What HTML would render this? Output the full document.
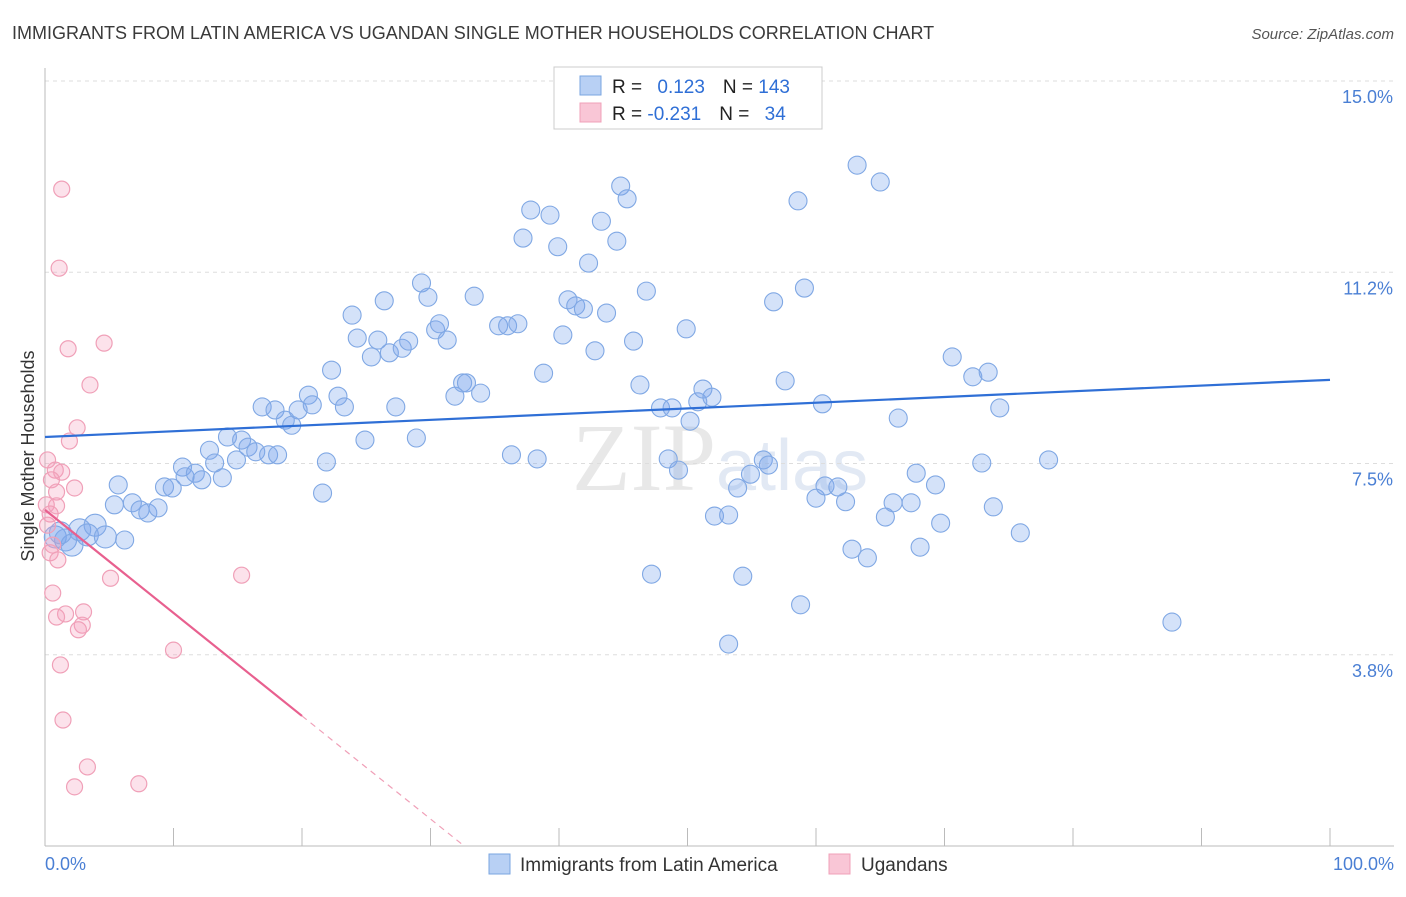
<!DOCTYPE html>
<html><head><meta charset="utf-8"><style>
body{margin:0;background:#fff;font-family:"Liberation Sans",sans-serif}
</style></head><body>
<svg width="1406" height="892" xmlns="http://www.w3.org/2000/svg" font-family="Liberation Sans, sans-serif">
<text x="12" y="39" font-size="18" fill="#3a3a3a">IMMIGRANTS FROM LATIN AMERICA VS UGANDAN SINGLE MOTHER HOUSEHOLDS CORRELATION CHART</text>
<text x="1394" y="39" font-size="15" fill="#555" font-style="italic" text-anchor="end">Source: ZipAtlas.com</text>
<text x="720" y="490" font-size="96" fill="#e8e8e8" text-anchor="middle" font-family="Liberation Serif, serif">ZIP<tspan font-family="Liberation Sans, sans-serif" font-size="72" fill="#e2e9f4">atlas</tspan></text>
<g id="grid"></g><g id="axes"></g><g id="marks"></g>
<text transform="translate(34,456) rotate(-90)" font-size="18" fill="#333" text-anchor="middle">Single Mother Households</text>
<g>
<rect x="554" y="67" width="268" height="62" fill="#fff" stroke="#ccc"/>
<rect x="580" y="76" width="21" height="19" fill="#b8d0f4" stroke="#7aa6e0"/>
<rect x="580" y="103" width="21" height="19" fill="#f9c6d6" stroke="#f0a0b8"/>
<text x="612" y="93" font-size="19" fill="#222">R = <tspan fill="#2f6fd6" dx="10">0.123</tspan><tspan dx="18">N = </tspan><tspan fill="#2f6fd6">143</tspan></text>
<text x="612" y="120" font-size="19" fill="#222">R = <tspan fill="#2f6fd6">-0.231</tspan><tspan dx="18">N = </tspan><tspan fill="#2f6fd6" dx="10">34</tspan></text>
</g>
<g>
<rect x="489" y="854" width="21" height="20" fill="#b8d0f4" stroke="#7aa6e0"/>
<text x="520" y="871" font-size="19" fill="#333">Immigrants from Latin America</text>
<rect x="829" y="854" width="21" height="20" fill="#f9c6d6" stroke="#f0a0b8"/>
<text x="861" y="871" font-size="19" fill="#333">Ugandans</text>
</g>
</svg>
<script>
const yTicks=[3.8,7.5,11.2,15.0];
const yTickValues=[3.75,7.5,11.25,15];
const xTickLabels=["0.0%","100.0%"];
const blueX=[0.8,1.6,2.1,1.2,2.7,3.9,3.3,4.7,6.2,5.7,5.4,6.8,7.4,8.0,8.8,9.3,9.9,10.7,10.9,11.7,12.2,12.8,13.2,13.8,14.2,14.9,15.3,15.8,16.4,16.9,17.4,18.1,17.9,18.7,19.2,19.7,20.5,20.8,21.6,21.9,22.3,22.8,23.3,23.9,24.3,24.9,25.4,25.9,26.4,26.8,27.3,27.8,28.3,28.9,29.3,29.8,30.4,30.7,31.3,31.9,32.5,32.8,33.4,33.9,35.3,36.0,36.3,36.8,37.2,37.8,38.3,38.8,39.3,39.9,40.3,40.7,41.3,41.9,42.3,42.8,43.3,43.7,44.5,44.8,45.3,45.8,46.3,46.8,47.2,47.9,48.5,48.8,49.3,49.9,50.2,50.8,51.2,51.9,52.1,53.2,53.9,54.3,54.9,55.9,56.3,56.7,57.6,58.6,58.8,59.1,60.0,60.5,60.7,61.7,62.3,62.8,63.2,64.0,65.0,65.4,66.0,66.4,67.4,67.8,68.1,69.3,69.7,70.6,72.2,72.9,73.4,73.8,74.3,75.9,78.1,87.7,53.2];
const blueY=[6.06,6.0,5.9,6.14,6.2,6.29,6.1,6.06,6.0,7.08,6.69,6.73,6.59,6.53,6.63,7.04,7.02,7.43,7.24,7.31,7.18,7.76,7.51,7.22,8.02,7.57,7.96,7.82,7.73,8.61,7.67,7.67,8.55,8.35,8.25,8.55,8.84,8.65,6.92,7.53,9.33,8.82,8.61,10.41,9.96,7.96,9.59,9.92,10.69,9.67,8.61,9.76,9.9,8.0,11.04,10.76,10.12,10.24,9.92,8.82,9.08,9.08,10.78,8.88,10.2,10.2,7.67,10.24,11.92,12.47,7.59,9.27,12.37,11.75,10.02,10.71,10.59,10.53,11.43,9.71,12.25,10.45,11.86,12.94,12.69,9.9,9.04,10.88,5.33,8.59,7.59,8.59,7.37,10.14,8.33,8.71,8.96,8.8,6.47,6.49,7.02,5.29,7.29,7.57,7.47,10.67,9.12,12.65,4.73,10.94,6.82,8.67,7.06,7.04,6.75,5.82,13.35,5.65,13.02,6.45,6.73,8.39,6.73,7.31,5.86,7.08,6.33,9.59,9.2,7.51,9.29,6.65,8.59,6.14,7.57,4.39,3.96];
const pinkX=[1.3,1.1,1.8,4.6,3.5,2.5,1.9,0.2,0.8,1.3,0.5,2.3,0.9,0.1,0.9,0.4,0.2,0.6,0.4,1.0,5.1,15.3,0.6,3.0,1.6,0.9,2.9,2.6,10.0,1.2,1.4,3.3,2.3,7.3];
const pinkY=[12.88,11.33,9.75,9.86,9.04,8.2,7.94,7.57,7.37,7.33,7.18,7.02,6.94,6.69,6.67,6.51,6.29,5.9,5.75,5.61,5.25,5.31,4.96,4.59,4.55,4.49,4.33,4.24,3.84,3.55,2.47,1.55,1.16,1.22];
const blueTrend=[8.02,9.14];
const pinkTrend=[6.59,-0.202];

const NS="http://www.w3.org/2000/svg";
const X=v=>45+v*12.85, Y=v=>846-v*51;
function mk(tag,attrs,parent){const e=document.createElementNS(NS,tag);for(const k in attrs)e.setAttribute(k,attrs[k]);document.getElementById(parent).appendChild(e);return e;}
yTicks.forEach((t,i)=>{
 const g=mk('line',{x1:45,x2:1394,y1:Y(yTickValues[i]),y2:Y(yTickValues[i]),stroke:'#ddd','stroke-dasharray':'4,4'},'grid');
 
 
 const tx=mk('text',{x:1393,y:Y(yTickValues[i])+22,'font-size':18,fill:'#4a7fd4','text-anchor':'end'},'axes');
 tx.textContent=t.toFixed(1)+'%';
 
 
});
const ax=mk('line',{x1:45,x2:45,y1:68,y2:846,stroke:'#bbb'},'axes');


const bx=mk('line',{x1:45,x2:1394,y1:846,y2:846,stroke:'#bbb'},'axes');


for(let i=0;i<=10;i++){const t=mk('line',{x1:X(i*10),x2:X(i*10),y1:828,y2:846,stroke:'#bbb'},'axes');
 
 }
[[0,'start',45],[100,'end',1394]].forEach((d,i)=>{const t=mk('text',{x:d[2],y:870,'font-size':18,fill:'#4a7fd4','text-anchor':d[1]},'axes');t.textContent=xTickLabels[i];
 
 });
blueX.forEach((x,i)=>{const c=mk('circle',{cx:X(x),cy:Y(blueY[i]),r:x<5?11:9,fill:'rgba(120,165,235,0.32)',stroke:'#80a8e4','stroke-width':1.1},'marks');
 
 });
pinkX.forEach((x,i)=>{const c=mk('circle',{cx:X(x),cy:Y(pinkY[i]),r:8,fill:'rgba(245,160,190,0.3)',stroke:'#f0a0b8','stroke-width':1.2},'marks');
 
 });
const bl=mk('line',{x1:X(0),y1:Y(blueTrend[0]),x2:X(100),y2:Y(blueTrend[1]),stroke:'#2f6fd6','stroke-width':2.2},'marks');


const pl=mk('line',{x1:X(0),y1:Y(pinkTrend[0]),x2:X(20),y2:Y(pinkTrend[0]+pinkTrend[1]*20),stroke:'#e8608f','stroke-width':2.2},'marks');


const xEnd=-pinkTrend[0]/pinkTrend[1];
const pd=mk('line',{x1:X(20),y1:Y(pinkTrend[0]+pinkTrend[1]*20),x2:X(xEnd),y2:Y(0),stroke:'#f0a0b8','stroke-width':1.2,'stroke-dasharray':'6,5'},'marks');


</script>
</body></html>
